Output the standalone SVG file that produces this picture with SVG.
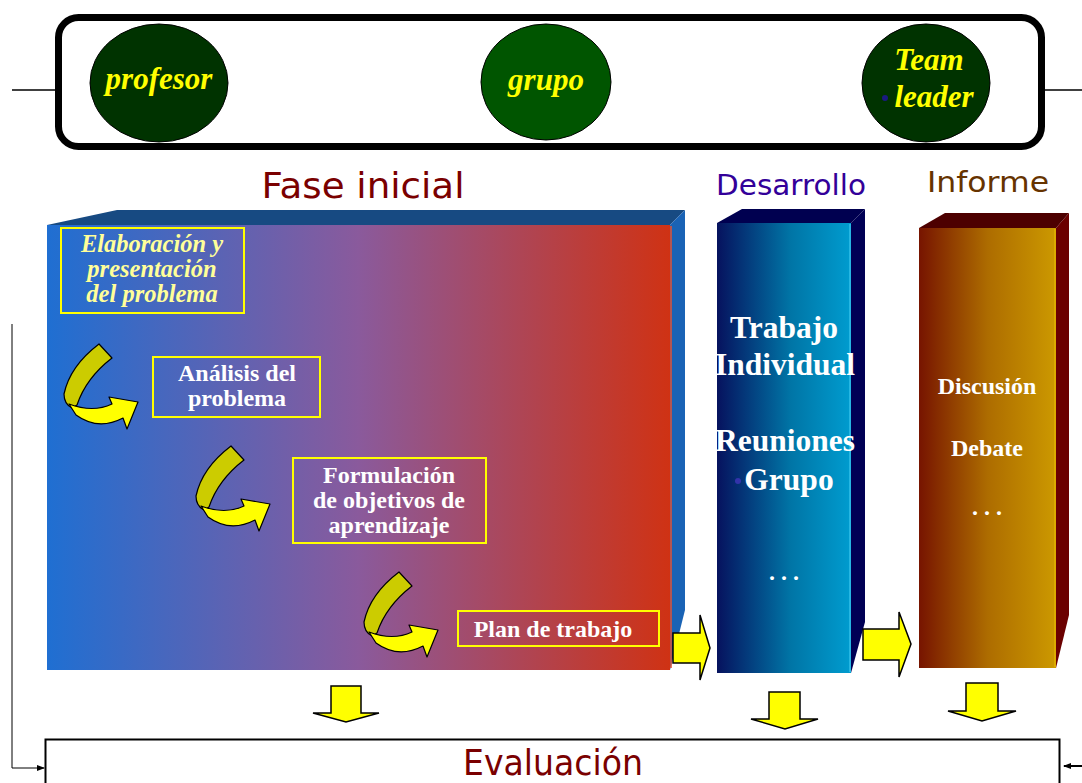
<svg xmlns="http://www.w3.org/2000/svg" xmlns:xlink="http://www.w3.org/1999/xlink" width="1082" height="783" viewBox="0 0 1082 783">
<defs>
<linearGradient id="gFase" x1="0" y1="0" x2="1" y2="0">
<stop offset="0" stop-color="#1f6fd2"/>
<stop offset="0.5" stop-color="#8a5a9c"/>
<stop offset="1" stop-color="#cf3214"/>
</linearGradient>
<linearGradient id="gDes" x1="0" y1="0" x2="1" y2="0">
<stop offset="0" stop-color="#06125e"/>
<stop offset="0.55" stop-color="#0075a6"/>
<stop offset="1" stop-color="#009ccf"/>
</linearGradient>
<linearGradient id="gInf" x1="0" y1="0" x2="1" y2="0">
<stop offset="0" stop-color="#771400"/>
<stop offset="0.5" stop-color="#ad6c00"/>
<stop offset="1" stop-color="#cc9900"/>
</linearGradient>
<g id="curl">
<path d="M99,344 Q70,366 64,394 Q64,404 72,408 L77,405 Q86,378 112,358 Z" fill="#cccc00" stroke="#000" stroke-width="1.2" stroke-linejoin="round"/>
<path d="M69,404 Q93,413 112,404 L109,397 L138,402 L127,429 L123,418 Q98,431 76,415 Z" fill="#ffff00" stroke="#000" stroke-width="1.2" stroke-linejoin="round"/>
</g>
<marker id="ah" markerWidth="8" markerHeight="8" refX="7" refY="4" orient="auto" markerUnits="userSpaceOnUse">
<path d="M0,1 L8,4 L0,7 Z" fill="#000"/>
</marker>
</defs>
<style>
.ell{stroke:#000;stroke-width:1}
.etxt{font-family:"Liberation Serif",serif;font-weight:bold;font-style:italic;font-size:31px;fill:#ffff00;text-anchor:middle}
.title{font-family:"DejaVu Sans","Liberation Sans",sans-serif;text-anchor:middle}
.box{fill:none;stroke:#ffff00;stroke-width:2}
.btxt{font-family:"Liberation Serif",serif;font-weight:bold;font-size:24px;fill:#ffffff;text-anchor:middle}
.itxt{font-family:"Liberation Serif",serif;font-weight:bold;font-style:italic;font-size:24.5px;fill:#ffff99;text-anchor:middle}
.ctxt{font-family:"Liberation Serif",serif;font-weight:bold;font-size:31.5px;fill:#ffffff;text-anchor:middle}
.blk{fill:#ffff00;stroke:#000;stroke-width:1.5;stroke-linejoin:miter}
</style>
<rect width="1082" height="783" fill="#ffffff"/>

<g id="roles">
<rect x="58.5" y="17.5" width="983" height="129" rx="20" ry="20" fill="#ffffff" stroke="#000" stroke-width="7"/>
</g>
<g id="profesor">
<ellipse class="ell" cx="159" cy="83" rx="69" ry="59" fill="#003300"/>
<text class="etxt" x="159" y="89">profesor</text>
</g>
<g id="grupo">
<ellipse class="ell" cx="546" cy="82" rx="65" ry="58" fill="#005500"/>
<text class="etxt" x="546" y="90">grupo</text>
</g>
<g id="teamleader">
<ellipse class="ell" cx="926" cy="83" rx="64" ry="59" fill="#003300"/>
<text class="etxt" x="929" y="70">Team</text>
<circle cx="885" cy="98" r="3" fill="#1a1a80"/>
<text class="etxt" x="934" y="107">leader</text>
</g>

<g id="fase-inicial">
<text class="title" x="363" y="198" font-size="36" fill="#7a0000" textLength="203" lengthAdjust="spacingAndGlyphs">Fase inicial</text>
<polygon points="47,225 117,210 685,210 670,225" fill="#174a82"/>
<polygon points="670,225 685,210 685,610 670,670" fill="#1a63b5"/>
<line x1="671" y1="226" x2="671" y2="668" stroke="#e85030" stroke-width="1.5"/>
<rect x="47" y="225" width="623" height="445" fill="url(#gFase)"/>
</g>
<g id="elaboracion">
<rect class="box" x="61" y="228" width="183" height="85"/>
<text class="itxt" x="152" y="252">Elaboración y</text>
<text class="itxt" x="152" y="277">presentación</text>
<text class="itxt" x="152" y="302">del problema</text>
</g>
<g id="analisis">
<rect class="box" x="153" y="357" width="167" height="60"/>
<text class="btxt" x="237" y="381">Análisis del</text>
<text class="btxt" x="237" y="406">problema</text>
</g>
<g id="formulacion">
<rect class="box" x="293" y="458" width="193" height="85"/>
<text class="btxt" x="389" y="483">Formulación</text>
<text class="btxt" x="389" y="508">de objetivos de</text>
<text class="btxt" x="389" y="533">aprendizaje</text>
</g>
<g id="plan">
<rect class="box" x="458" y="611" width="201" height="35"/>
<text class="btxt" x="553" y="637">Plan de trabajo</text>
</g>

<g id="desarrollo">
<text class="title" x="791" y="195" font-size="29" fill="#330099" textLength="150" lengthAdjust="spacingAndGlyphs">Desarrollo</text>
<polygon points="717,223 742,209 865,209 851,223" fill="#000050"/>
<polygon points="851,223 865,209 865,622 851,673" fill="#000055"/>
<rect x="717" y="223" width="134" height="450" fill="url(#gDes)"/>
<line x1="850" y1="224" x2="850" y2="672" stroke="#40c8f0" stroke-width="1.2"/>
<text class="ctxt" x="784" y="338">Trabajo</text>
<text class="ctxt" x="785" y="375">Individual</text>
<text class="ctxt" x="785" y="451">Reuniones</text>
<circle cx="738" cy="481" r="3" fill="#3333aa"/>
<text class="ctxt" x="789" y="490">Grupo</text>
<text class="btxt" x="784" y="580" font-size="22">. . .</text>
</g>

<g id="informe">
<text class="title" x="988" y="192" font-size="29" fill="#663300" textLength="122" lengthAdjust="spacingAndGlyphs">Informe</text>
<polygon points="919,228 945,213 1069,213 1056,228" fill="#4d0000"/>
<polygon points="1056,228 1069,213 1069,615 1056,668" fill="#6b0000"/>
<rect x="919" y="228" width="137" height="440" fill="url(#gInf)"/>
<line x1="1055" y1="229" x2="1055" y2="667" stroke="#e8b800" stroke-width="1.2"/>
<text class="btxt" x="987" y="394">Discusión</text>
<text class="btxt" x="987" y="456">Debate</text>
<text class="btxt" x="987" y="515" font-size="14" font-weight="normal">. . .</text>
</g>

<g id="evaluacion">
<rect x="45.5" y="739.5" width="1014" height="70" fill="#ffffff" stroke="#000" stroke-width="2"/>
<text class="title" x="553" y="775" font-size="35" fill="#7a0000" textLength="180" lengthAdjust="spacingAndGlyphs">Evaluación</text>
</g>

<g id="connectors">
<line x1="12" y1="90" x2="56" y2="90" stroke="#000" stroke-width="1.5"/>
<line x1="1045" y1="90" x2="1082" y2="90" stroke="#000" stroke-width="1.5"/>
<use xlink:href="#curl" href="#curl"/>
<use xlink:href="#curl" href="#curl" transform="translate(132,102)"/>
<use xlink:href="#curl" href="#curl" transform="translate(300,228)"/>
<polygon class="blk" points="673,633 700,633 700,615 710,648 700,680 700,663 673,663"/>
<polygon class="blk" points="863,629 899,629 899,612 911,644 899,677 899,660 863,660"/>
<polygon class="blk" points="331,686 361,686 361,713 379,713 346,722 313,713 331,713"/>
<polygon class="blk" points="769,692 800,692 800,719 818,719 785,729 751,719 769,719"/>
<polygon class="blk" points="966,683 998,683 998,711 1016,711 982,721 948,711 966,711"/>
<polyline points="12,324 12,768 44,768" fill="none" stroke="#000" stroke-width="1" marker-end="url(#ah)"/>
<line x1="1082" y1="766" x2="1064" y2="766" stroke="#000" stroke-width="2" marker-end="url(#ah)"/>
</g>
</svg>
